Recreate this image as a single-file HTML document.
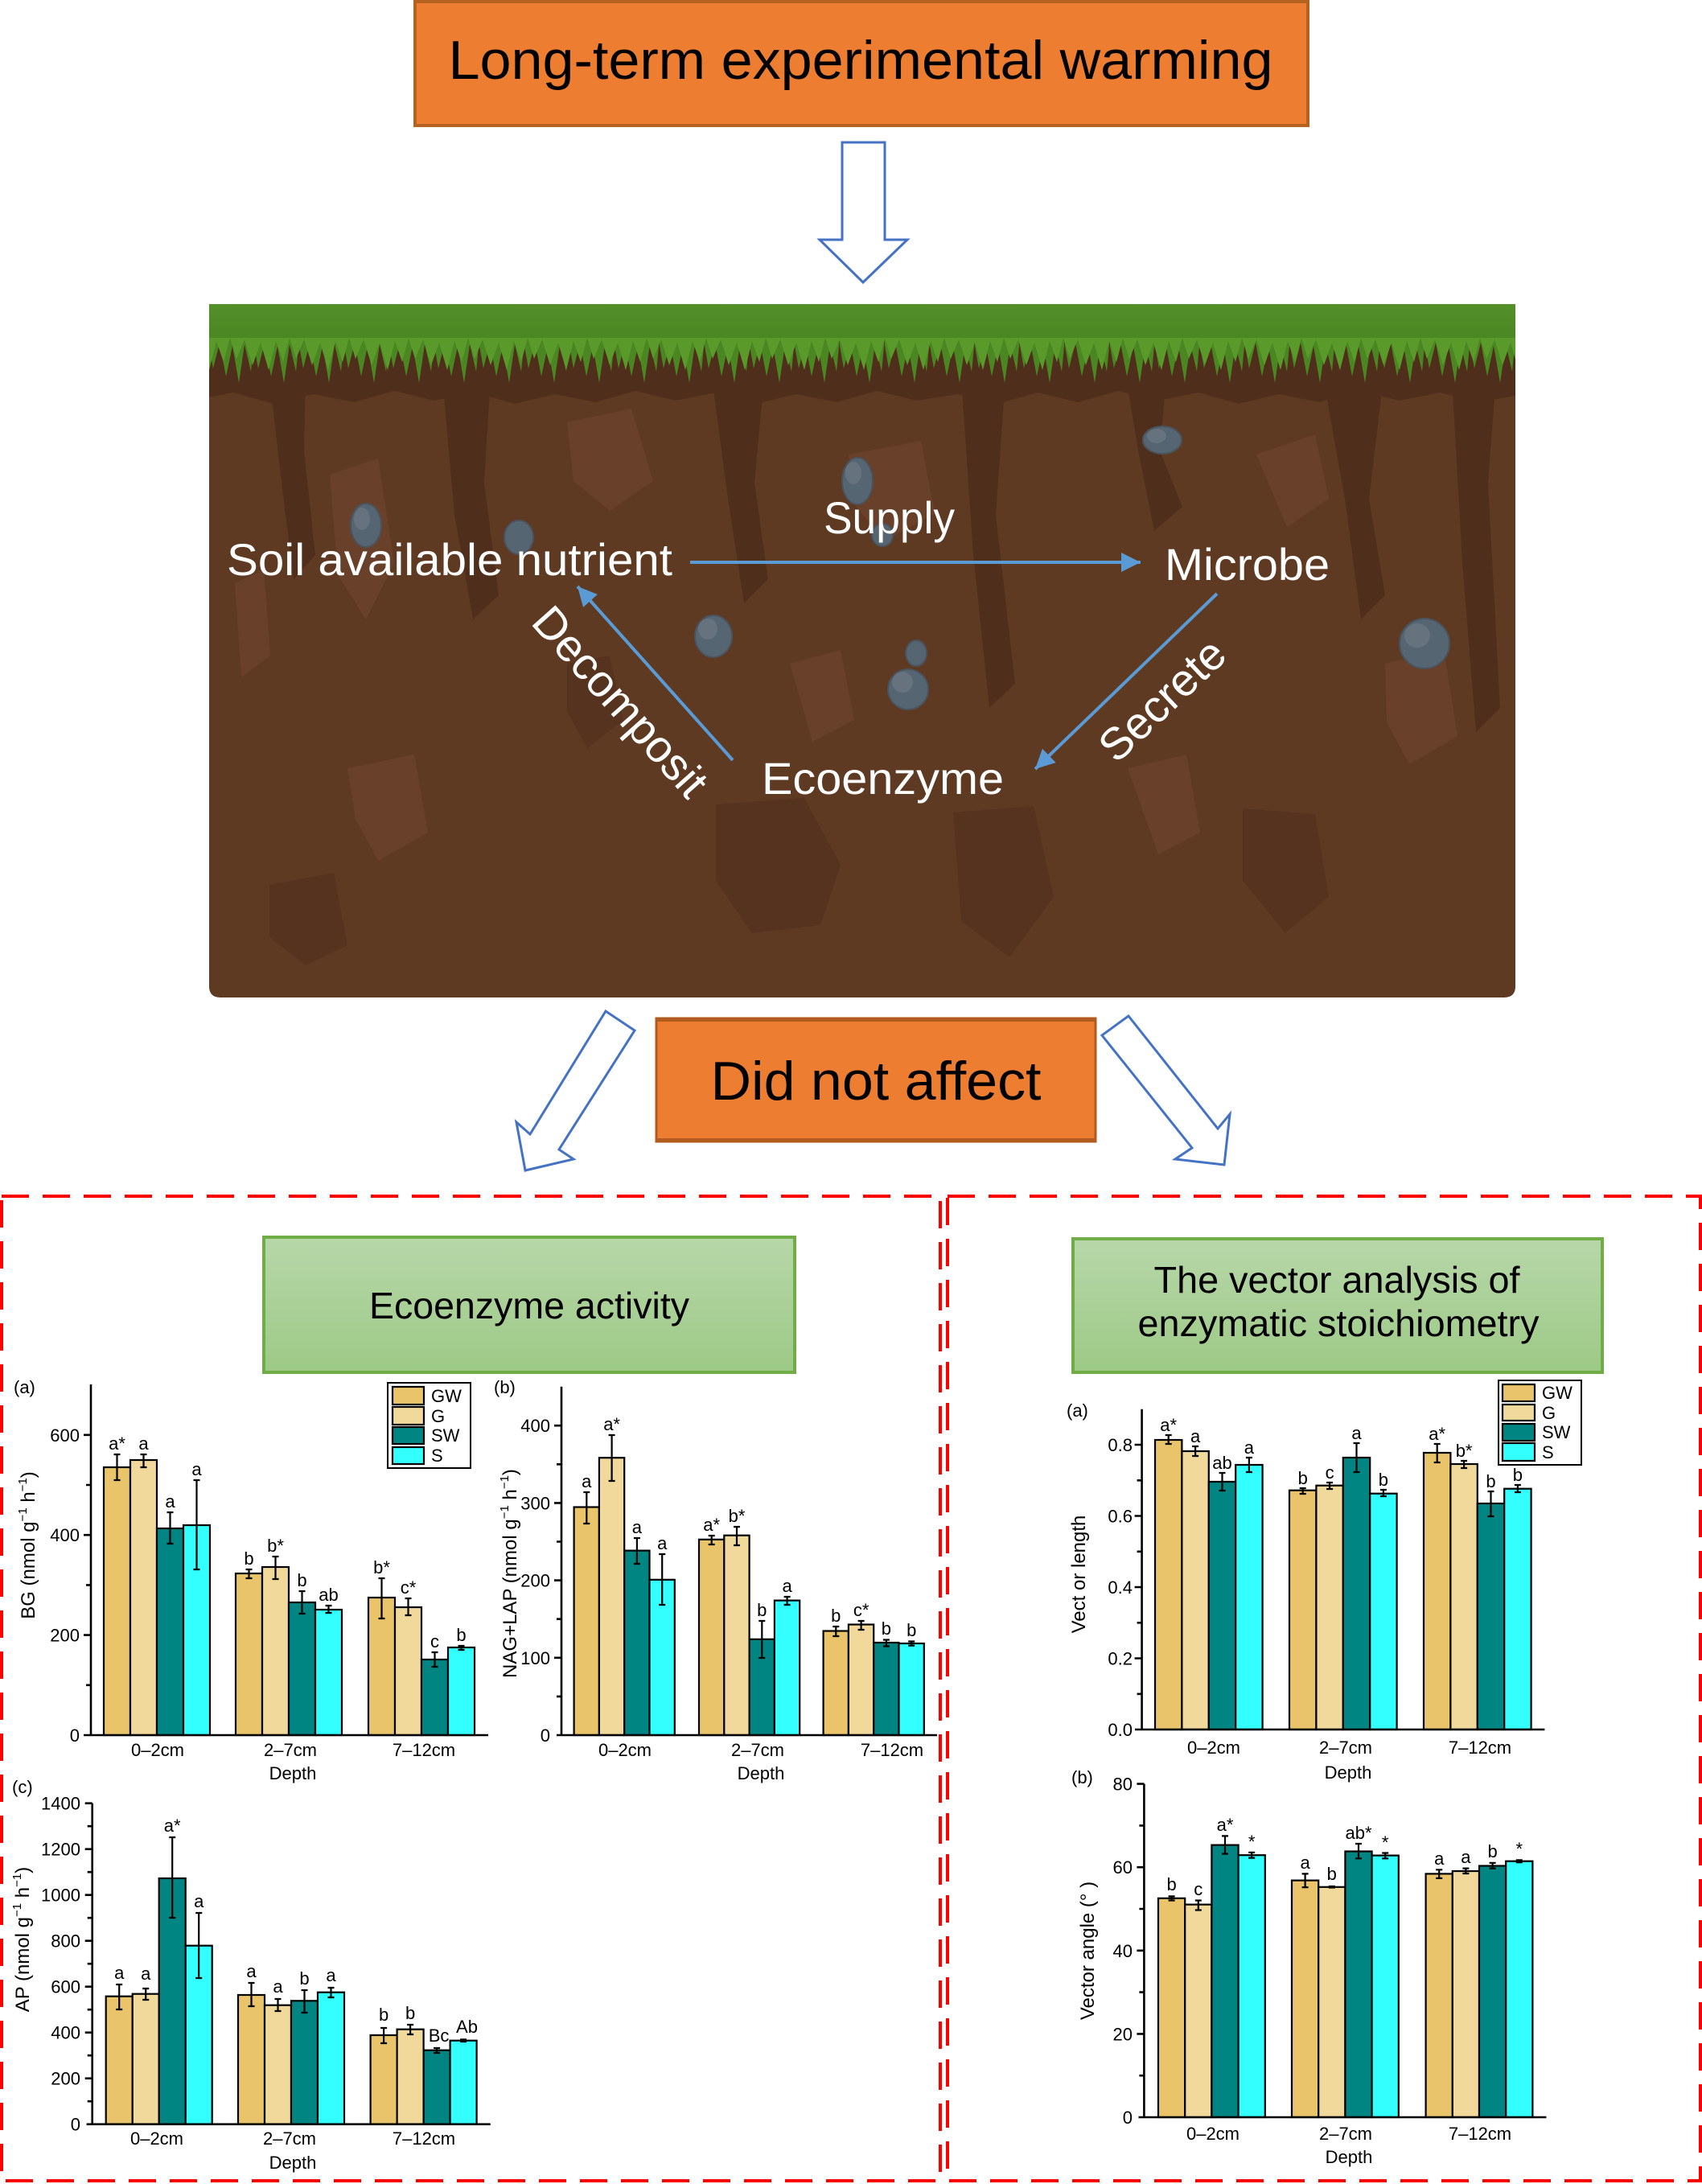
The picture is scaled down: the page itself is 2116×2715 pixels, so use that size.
<!DOCTYPE html>
<html><head><meta charset="utf-8"><title>Warming ecoenzyme figure</title>
<style>
html,body{margin:0;padding:0;background:#fff;}
svg{display:block;}
text{font-family:"Liberation Sans",Arial,sans-serif;}
.gw{fill:#E9C46A;stroke:#000;stroke-width:2.2}
.g{fill:#F1D89B;stroke:#000;stroke-width:2.2}
.sw{fill:#008582;stroke:#000;stroke-width:2.2}
.s{fill:#33FFFF;stroke:#000;stroke-width:2.2}
.ax{stroke:#000;stroke-width:2.6;fill:none}
.eb{stroke:#000;stroke-width:2.2;fill:none}
.t{font-size:22px;fill:#000}
.lab{font-size:22px;fill:#000;text-anchor:middle}
.tk{font-size:22px;fill:#000;text-anchor:end}
.yl{font-size:24px;fill:#000;text-anchor:middle}
.wt{font-size:56px;fill:#fff}
</style></head>
<body>
<svg width="2116" height="2715" viewBox="0 0 2116 2715" xmlns="http://www.w3.org/2000/svg">
<defs>
<linearGradient id="gg" x1="0" y1="0" x2="0" y2="1"><stop offset="0" stop-color="#B7D7A9"/><stop offset="1" stop-color="#9DC986"/></linearGradient>
<linearGradient id="grassg" x1="0" y1="0" x2="0" y2="1"><stop offset="0" stop-color="#53902A"/><stop offset="1" stop-color="#4A8621"/></linearGradient>
<pattern id="spk" x="260" y="420" width="56" height="70" patternUnits="userSpaceOnUse"><path d="M0 0H56L52 42L44 8L37 56L29 10L21 48L13 6L5 38L0 10Z" fill="#4A8621"/></pattern>
<pattern id="spk2" x="286" y="420" width="74" height="70" patternUnits="userSpaceOnUse"><path d="M0 0H74L66 30L57 4L48 40L38 6L28 34L18 2L8 26Z" fill="#5A9A2B"/></pattern>
<marker id="ah" viewBox="0 0 10 10" refX="10" refY="5" markerWidth="6.5" markerHeight="6" orient="auto" markerUnits="strokeWidth"><path d="M0 0L10 5L0 10Z" fill="#5B9BD5"/></marker>
</defs>

<!-- top box -->
<rect x="516" y="2" width="1110" height="154" fill="#ED7D31" stroke="#B5611F" stroke-width="4"/>
<text x="1070" y="98" font-size="68" text-anchor="middle" textLength="1025" lengthAdjust="spacingAndGlyphs">Long-term experimental warming</text>

<!-- down arrow -->
<polygon points="1047,177 1100,177 1100,298 1128,298 1073,351 1019,298 1047,298" fill="#fff" stroke="#4472C4" stroke-width="3"/>

<!-- soil -->
<path d="M260 378H1884V1226Q1884 1240 1870 1240H274Q260 1240 260 1226Z" fill="#5F3A22"/>
<g fill="#4F2F1C">
<polygon points="260,425 1884,425 1884,492 1840,500 1790,488 1740,498 1690,486 1640,500 1590,490 1540,502 1490,488 1440,498 1390,486 1340,500 1290,488 1240,502 1190,490 1140,498 1090,486 1040,500 990,490 940,502 890,488 840,498 790,486 740,500 690,490 640,502 590,488 540,498 490,486 440,500 390,490 340,502 290,488 260,494"/>
<polygon points="335,470 380,470 378,560 392,690 365,720 350,600"/>
<polygon points="550,470 610,470 602,600 620,740 588,770 565,640"/>
<polygon points="885,470 950,470 938,600 955,720 925,750 905,620"/>
<polygon points="1195,470 1250,470 1238,640 1262,850 1230,880 1210,690"/>
<polygon points="1400,470 1450,470 1442,560 1470,630 1435,660 1415,560"/>
<polygon points="1645,470 1720,470 1702,620 1722,740 1692,770 1672,620"/>
<polygon points="1805,470 1860,470 1850,600 1865,880 1835,910 1818,700"/>
</g>
<g fill="#56331F">
<polygon points="890,1000 1000,992 1045,1075 1020,1150 935,1160 890,1095"/>
<polygon points="1185,1010 1285,1002 1310,1115 1255,1190 1195,1145"/>
<polygon points="1545,1005 1635,1012 1652,1115 1598,1160 1545,1095"/>
<polygon points="335,1100 415,1085 432,1175 380,1200 335,1165"/>
<polygon points="705,825 758,815 775,895 730,930 705,885"/>
</g>
<g fill="#69402A">
<polygon points="410,590 470,570 490,700 455,770 420,715"/>
<polygon points="705,525 785,508 812,598 758,635 713,598"/>
<polygon points="1055,565 1145,548 1162,638 1100,672 1063,628"/>
<polygon points="1562,565 1635,540 1652,620 1600,655"/>
<polygon points="1722,825 1795,808 1812,915 1752,950 1724,898"/>
<polygon points="432,955 515,938 532,1035 470,1070 442,1018"/>
<polygon points="1402,955 1475,938 1492,1035 1440,1062"/>
<polygon points="982,825 1045,808 1062,895 1010,922"/>
<polygon points="292,725 328,708 336,815 300,842"/>
</g>
<rect x="260" y="378" width="1624" height="46" fill="url(#grassg)"/>
<rect x="260" y="420" width="1624" height="62" fill="url(#spk)"/>
<rect x="260" y="420" width="1624" height="44" fill="url(#spk2)"/>
<g fill="#566572" stroke="#49545E" stroke-width="2">
<ellipse cx="455" cy="653" rx="19" ry="27"/>
<ellipse cx="645" cy="668" rx="18" ry="21"/>
<ellipse cx="1066" cy="598" rx="19" ry="29"/>
<ellipse cx="1445" cy="547" rx="24" ry="17"/>
<ellipse cx="887" cy="791" rx="23" ry="26"/>
<ellipse cx="1139" cy="812" rx="13" ry="16"/>
<ellipse cx="1129" cy="857" rx="25" ry="25"/>
<ellipse cx="1771" cy="800" rx="31" ry="31"/>
<ellipse cx="1097" cy="665" rx="13" ry="14"/>
</g>
<g fill="#66737E">
<ellipse cx="450" cy="645" rx="10" ry="14"/>
<ellipse cx="1061" cy="588" rx="10" ry="14"/>
<ellipse cx="880" cy="782" rx="12" ry="13"/>
<ellipse cx="1122" cy="848" rx="13" ry="13"/>
<ellipse cx="1762" cy="790" rx="16" ry="15"/>
<ellipse cx="1438" cy="542" rx="12" ry="9"/>
</g>

<!-- soil arrows -->
<g stroke="#5B9BD5" stroke-width="4" fill="none">
<line x1="858" y1="699" x2="1418" y2="699" marker-end="url(#ah)"/>
<line x1="911" y1="945" x2="718" y2="729" marker-end="url(#ah)"/>
<line x1="1513" y1="738" x2="1287" y2="956" marker-end="url(#ah)"/>
</g>
<text class="wt" x="282" y="715" textLength="554" lengthAdjust="spacingAndGlyphs">Soil available nutrient</text>
<text class="wt" x="1024" y="663" textLength="163" lengthAdjust="spacingAndGlyphs">Supply</text>
<text class="wt" x="1448" y="721" textLength="205" lengthAdjust="spacingAndGlyphs">Microbe</text>
<text class="wt" x="947" y="987" textLength="301" lengthAdjust="spacingAndGlyphs">Ecoenzyme</text>
<text class="wt" text-anchor="middle" transform="translate(757,885) rotate(48.3)">Decomposit</text>
<text class="wt" text-anchor="middle" transform="translate(1458,884) rotate(-43.5)">Secrete</text>

<!-- did not affect -->
<polygon points="753,1257 789,1281 695,1429 713,1441 653,1455 642,1395 659,1410" fill="#fff" stroke="#4472C4" stroke-width="3"/>
<polygon points="1403,1263 1370,1287 1482,1427 1461,1441 1522,1448 1529,1385 1514,1403" fill="#fff" stroke="#4472C4" stroke-width="3"/>
<rect x="816" y="1266" width="546" height="153" fill="#ED7D31" stroke="#B25B1E" stroke-width="3"/>
<rect x="816" y="1265" width="546" height="5" fill="#B25B1E"/>
<rect x="816" y="1415" width="546" height="5" fill="#B25B1E"/>
<text x="1089" y="1367" font-size="68" text-anchor="middle" textLength="411" lengthAdjust="spacingAndGlyphs">Did not affect</text>

<!-- red dashed frames -->
<g fill="none" stroke="#FF0000" stroke-width="4" stroke-dasharray="34 17">
<rect x="2" y="1487" width="1167" height="1224"/>
<rect x="1178" y="1487" width="936" height="1224"/>
</g>

<!-- green boxes -->
<rect x="328" y="1538" width="660" height="168" fill="url(#gg)" stroke="#70AD47" stroke-width="4"/>
<text x="658" y="1639" font-size="46" text-anchor="middle" textLength="398" lengthAdjust="spacingAndGlyphs">Ecoenzyme activity</text>
<rect x="1334" y="1540" width="658" height="166" fill="url(#gg)" stroke="#70AD47" stroke-width="4"/>
<text x="1662" y="1607" font-size="46" text-anchor="middle" textLength="455" lengthAdjust="spacingAndGlyphs">The vector analysis of</text>
<text x="1664" y="1661" font-size="46" text-anchor="middle" textLength="499" lengthAdjust="spacingAndGlyphs">enzymatic stoichiometry</text>

<!-- ===== Chart A (BG) ===== -->
<rect class="gw" x="129" y="1824" width="33" height="333"/>
<rect class="g" x="162" y="1815" width="33" height="342"/>
<rect class="sw" x="195" y="1900" width="33" height="257"/>
<rect class="s" x="228" y="1896" width="33" height="261"/>
<rect class="gw" x="293" y="1956" width="33" height="201"/>
<rect class="g" x="326" y="1948" width="33" height="209"/>
<rect class="sw" x="359" y="1992" width="33" height="165"/>
<rect class="s" x="392" y="2001" width="33" height="156"/>
<rect class="gw" x="458" y="1986" width="33" height="171"/>
<rect class="g" x="491" y="1998" width="33" height="159"/>
<rect class="sw" x="524" y="2063" width="33" height="94"/>
<rect class="s" x="557" y="2048" width="33" height="109"/>
<path class="eb" d="M145.5 1808V1840M141.5 1808h8M141.5 1840h8M178.5 1808V1824M174.5 1808h8M174.5 1824h8M211.5 1880V1919M207.5 1880h8M207.5 1919h8M244.5 1840V1951M240.5 1840h8M240.5 1951h8M309.5 1951V1962M305.5 1951h8M305.5 1962h8M342.5 1935V1963M338.5 1935h8M338.5 1963h8M375.5 1978V2006M371.5 1978h8M371.5 2006h8M408.5 1996V2005M404.5 1996h8M404.5 2005h8M474.5 1962V2012M470.5 1962h8M470.5 2012h8M507.5 1987V2008M503.5 1987h8M503.5 2008h8M540.5 2054V2072M536.5 2054h8M536.5 2072h8M573.5 2046V2051M569.5 2046h8M569.5 2051h8"/>
<path class="ax" d="M113 1721V2157M104 2157H607M104 2032.6H113M104 1908.2H113M104 1783.8H113M107 2094.8H113M107 1970.4H113M107 1846H113"/>
<text class="tk" x="99" y="2165">0</text>
<text class="tk" x="99" y="2040.6">200</text>
<text class="tk" x="99" y="1916.2">400</text>
<text class="tk" x="99" y="1791.8">600</text>
<text class="lab" x="145.5" y="1802">a*</text><text class="lab" x="178.5" y="1802">a</text><text class="lab" x="211.5" y="1874">a</text><text class="lab" x="244.5" y="1834">a</text>
<text class="lab" x="309.5" y="1945">b</text><text class="lab" x="342.5" y="1929">b*</text><text class="lab" x="375.5" y="1972">b</text><text class="lab" x="408.5" y="1990">ab</text>
<text class="lab" x="474.5" y="1956">b*</text><text class="lab" x="507.5" y="1981">c*</text><text class="lab" x="540.5" y="2048">c</text><text class="lab" x="573.5" y="2040">b</text>
<text class="lab" x="196" y="2183">0–2cm</text><text class="lab" x="361" y="2183">2–7cm</text><text class="lab" x="527" y="2183">7–12cm</text>
<text class="lab" x="364" y="2212">Depth</text>
<text class="t" x="17" y="1732">(a)</text>
<text class="yl" transform="translate(43,1921) rotate(-90)">BG (nmol g<tspan font-size="15" dy="-10">−1</tspan><tspan dy="10"> h</tspan><tspan font-size="15" dy="-10">−1</tspan><tspan dy="10">)</tspan></text>
<rect x="482" y="1719" width="103" height="106" fill="#fff" stroke="#000" stroke-width="2"/>
<rect class="gw" x="488" y="1724" width="39" height="22"/>
<rect class="g" x="488" y="1749" width="39" height="22"/>
<rect class="sw" x="488" y="1774" width="39" height="21"/>
<rect class="s" x="488" y="1799" width="39" height="21"/>
<text class="t" x="536" y="1743">GW</text><text class="t" x="536" y="1768">G</text><text class="t" x="536" y="1792">SW</text><text class="t" x="536" y="1817">S</text>

<!-- ===== Chart B (NAG+LAP) ===== -->
<rect class="gw" x="713.6" y="1873.5" width="31.3" height="283.5"/>
<rect class="g" x="744.9" y="1812.2" width="31.3" height="344.8"/>
<rect class="sw" x="776.2" y="1927.6" width="31.3" height="229.4"/>
<rect class="s" x="807.5" y="1963.8" width="31.3" height="193.2"/>
<rect class="gw" x="869" y="1913.8" width="31.3" height="243.2"/>
<rect class="g" x="900.3" y="1908.7" width="31.3" height="248.3"/>
<rect class="sw" x="931.6" y="2037.8" width="31.3" height="119.2"/>
<rect class="s" x="962.9" y="1989.6" width="31.3" height="167.4"/>
<rect class="gw" x="1023.6" y="2027.5" width="31.3" height="129.5"/>
<rect class="g" x="1054.9" y="2019.5" width="31.3" height="137.5"/>
<rect class="sw" x="1086.2" y="2042" width="31.3" height="115"/>
<rect class="s" x="1117.5" y="2043" width="31.3" height="114"/>
<path class="eb" d="M729.3 1855V1894M725.3 1855h8M725.3 1894h8M760.6 1784V1841M756.6 1784h8M756.6 1841h8M791.9 1912V1944M787.9 1912h8M787.9 1944h8M823.2 1932V1995M819.2 1932h8M819.2 1995h8M884.7 1909V1920M880.7 1909h8M880.7 1920h8M916 1898V1921M912 1898h8M912 1921h8M947.3 2015V2061M943.3 2015h8M943.3 2061h8M978.6 1985V1995M974.6 1985h8M974.6 1995h8M1039.3 2022V2034M1035.3 2022h8M1035.3 2034h8M1070.6 2015V2026M1066.6 2015h8M1066.6 2026h8M1101.9 2038.5V2046.5M1097.9 2038.5h8M1097.9 2046.5h8M1133.2 2040.5V2045.7M1129.2 2040.5h8M1129.2 2045.7h8"/>
<path class="ax" d="M698 1723.7V2157M692 2157H1165M689 2060.8H698M689 1964.6H698M689 1868.4H698M689 1772.2H698M692 2108.9H698M692 2012.7H698M692 1916.5H698M692 1820.3H698"/>
<text class="tk" x="684" y="2165">0</text>
<text class="tk" x="684" y="2068.8">100</text>
<text class="tk" x="684" y="1972.6">200</text>
<text class="tk" x="684" y="1876.4">300</text>
<text class="tk" x="684" y="1780.2">400</text>
<text class="lab" x="729.3" y="1849">a</text><text class="lab" x="760.6" y="1778">a*</text><text class="lab" x="791.9" y="1906">a</text><text class="lab" x="823.2" y="1926">a</text>
<text class="lab" x="884.7" y="1903">a*</text><text class="lab" x="916" y="1892">b*</text><text class="lab" x="947.3" y="2009">b</text><text class="lab" x="978.6" y="1979">a</text>
<text class="lab" x="1039.3" y="2016">b</text><text class="lab" x="1070.6" y="2009">c*</text><text class="lab" x="1101.9" y="2032">b</text><text class="lab" x="1133.2" y="2034">b</text>
<text class="lab" x="777" y="2183">0–2cm</text><text class="lab" x="942" y="2183">2–7cm</text><text class="lab" x="1109" y="2183">7–12cm</text>
<text class="lab" x="946" y="2212">Depth</text>
<text class="t" x="614" y="1732">(b)</text>
<text class="yl" transform="translate(642,1956) rotate(-90)">NAG+LAP (nmol g<tspan font-size="15" dy="-10">−1</tspan><tspan dy="10"> h</tspan><tspan font-size="15" dy="-10">−1</tspan><tspan dy="10">)</tspan></text>

<!-- ===== Chart C (AP) ===== -->
<rect class="gw" x="131.7" y="2481.7" width="33" height="159"/>
<rect class="g" x="164.7" y="2478.7" width="33" height="162"/>
<rect class="sw" x="197.7" y="2335" width="33" height="305.7"/>
<rect class="s" x="230.7" y="2418.7" width="33" height="222"/>
<rect class="gw" x="296" y="2480" width="33" height="160.7"/>
<rect class="g" x="329" y="2492.7" width="33" height="148"/>
<rect class="sw" x="362" y="2487.3" width="33" height="153.4"/>
<rect class="s" x="395" y="2476.7" width="33" height="164"/>
<rect class="gw" x="460.6" y="2530" width="33" height="110.7"/>
<rect class="g" x="493.6" y="2522.7" width="33" height="118"/>
<rect class="sw" x="526.6" y="2548.7" width="33" height="92"/>
<rect class="s" x="559.6" y="2536.7" width="33" height="104"/>
<path class="eb" d="M148.2 2467V2498M144.2 2467h8M144.2 2498h8M181.2 2472V2486M177.2 2472h8M177.2 2486h8M214.2 2284V2384M210.2 2284h8M210.2 2384h8M247.2 2378V2459M243.2 2378h8M243.2 2459h8M312.5 2465V2494M308.5 2465h8M308.5 2494h8M345.5 2485V2500M341.5 2485h8M341.5 2500h8M378.5 2474V2502M374.5 2474h8M374.5 2502h8M411.5 2471V2483M407.5 2471h8M407.5 2483h8M477.1 2521V2540M473.1 2521h8M473.1 2540h8M510.1 2517V2529M506.1 2517h8M506.1 2529h8M543.1 2546V2552M539.1 2546h8M539.1 2552h8M576.1 2535.3V2538M572.1 2535.3h8M572.1 2538h8"/>
<path class="ax" d="M114.7 2241.7V2640.7M107.6 2640.7H609.7M105.7 2583.7H114.7M105.7 2526.7H114.7M105.7 2469.7H114.7M105.7 2412.7H114.7M105.7 2355.7H114.7M105.7 2298.7H114.7M105.7 2241.7H114.7M108.7 2612.2H114.7M108.7 2555.2H114.7M108.7 2498.2H114.7M108.7 2441.2H114.7M108.7 2384.2H114.7M108.7 2327.2H114.7M108.7 2270.2H114.7"/>
<text class="tk" x="100" y="2648.7">0</text>
<text class="tk" x="100" y="2591.7">200</text>
<text class="tk" x="100" y="2534.7">400</text>
<text class="tk" x="100" y="2477.7">600</text>
<text class="tk" x="100" y="2420.7">800</text>
<text class="tk" x="100" y="2363.7">1000</text>
<text class="tk" x="100" y="2306.7">1200</text>
<text class="tk" x="100" y="2249.7">1400</text>
<text class="lab" x="148.2" y="2460">a</text><text class="lab" x="181.2" y="2461">a</text><text class="lab" x="214.2" y="2277">a*</text><text class="lab" x="247.2" y="2371">a</text>
<text class="lab" x="312.5" y="2458">a</text><text class="lab" x="345.5" y="2477">a</text><text class="lab" x="378.5" y="2467">b</text><text class="lab" x="411.5" y="2463">a</text>
<text class="lab" x="477.1" y="2512">b</text><text class="lab" x="510.1" y="2510">b</text><text class="lab" x="545.6" y="2538">Bc</text><text class="lab" x="580.5" y="2527">Ab</text>
<text class="lab" x="195" y="2666">0–2cm</text><text class="lab" x="360" y="2666">2–7cm</text><text class="lab" x="527" y="2666">7–12cm</text>
<text class="lab" x="364" y="2696">Depth</text>
<text class="t" x="15" y="2229">(c)</text>
<text class="yl" transform="translate(36,2411) rotate(-90)">AP (nmol g<tspan font-size="15" dy="-10">−1</tspan><tspan dy="10"> h</tspan><tspan font-size="15" dy="-10">−1</tspan><tspan dy="10">)</tspan></text>

<!-- ===== Right chart A (vector length) ===== -->
<rect class="gw" x="1436" y="1790" width="33.4" height="360"/>
<rect class="g" x="1469.4" y="1804" width="33.4" height="346"/>
<rect class="sw" x="1502.8" y="1842" width="33.4" height="308"/>
<rect class="s" x="1536.2" y="1821" width="33.4" height="329"/>
<rect class="gw" x="1603" y="1852.7" width="33.4" height="297.3"/>
<rect class="g" x="1636.4" y="1846.7" width="33.4" height="303.3"/>
<rect class="sw" x="1669.8" y="1812" width="33.4" height="338"/>
<rect class="s" x="1703.2" y="1856.7" width="33.4" height="293.3"/>
<rect class="gw" x="1770" y="1806" width="33.4" height="344"/>
<rect class="g" x="1803.4" y="1820" width="33.4" height="330"/>
<rect class="sw" x="1836.8" y="1869" width="33.4" height="281"/>
<rect class="s" x="1870.2" y="1850.7" width="33.4" height="299.3"/>
<path class="eb" d="M1452.7 1784V1795M1448.7 1784h8M1448.7 1795h8M1486.1 1798V1810M1482.1 1798h8M1482.1 1810h8M1519.5 1831V1853M1515.5 1831h8M1515.5 1853h8M1552.9 1812V1830M1548.9 1812h8M1548.9 1830h8M1619.7 1850V1857M1615.7 1850h8M1615.7 1857h8M1653.1 1843V1851M1649.1 1843h8M1649.1 1851h8M1686.5 1794V1830M1682.5 1794h8M1682.5 1830h8M1719.9 1852V1860M1715.9 1852h8M1715.9 1860h8M1786.7 1795V1818M1782.7 1795h8M1782.7 1818h8M1820.1 1816V1825M1816.1 1816h8M1816.1 1825h8M1853.5 1854V1885M1849.5 1854h8M1849.5 1885h8M1886.9 1846V1855M1882.9 1846h8M1882.9 1855h8"/>
<path class="ax" d="M1419.6 1751.7V2150M1411 2150H1920.4M1410.6 2061.5H1419.6M1410.6 1973H1419.6M1410.6 1884.5H1419.6M1410.6 1796H1419.6M1413.6 2105.8H1419.6M1413.6 2017.3H1419.6M1413.6 1928.8H1419.6M1413.6 1840.3H1419.6"/>
<text class="tk" x="1408" y="2158">0.0</text>
<text class="tk" x="1408" y="2069.5">0.2</text>
<text class="tk" x="1408" y="1981">0.4</text>
<text class="tk" x="1408" y="1892.5">0.6</text>
<text class="tk" x="1408" y="1804">0.8</text>
<text class="lab" x="1452.7" y="1779">a*</text><text class="lab" x="1486.1" y="1793">a</text><text class="lab" x="1519.5" y="1826">ab</text><text class="lab" x="1552.9" y="1807">a</text>
<text class="lab" x="1619.7" y="1845">b</text><text class="lab" x="1653.1" y="1838">c</text><text class="lab" x="1686.5" y="1789">a</text><text class="lab" x="1719.9" y="1847">b</text>
<text class="lab" x="1786.7" y="1790">a*</text><text class="lab" x="1820.1" y="1811">b*</text><text class="lab" x="1853.5" y="1849">b</text><text class="lab" x="1886.9" y="1841">b</text>
<text class="lab" x="1509" y="2180">0–2cm</text><text class="lab" x="1673" y="2180">2–7cm</text><text class="lab" x="1840" y="2180">7–12cm</text>
<text class="lab" x="1676" y="2211">Depth</text>
<text class="t" x="1326" y="1761">(a)</text>
<text class="yl" transform="translate(1349,1957) rotate(-90)">Vect or length</text>
<rect x="1863" y="1716" width="103" height="105" fill="#fff" stroke="#000" stroke-width="2"/>
<rect class="gw" x="1868" y="1721" width="40" height="21"/>
<rect class="g" x="1868" y="1746" width="40" height="20"/>
<rect class="sw" x="1868" y="1770" width="40" height="21"/>
<rect class="s" x="1868" y="1794" width="40" height="22"/>
<text class="t" x="1917" y="1739">GW</text><text class="t" x="1917" y="1764">G</text><text class="t" x="1917" y="1788">SW</text><text class="t" x="1917" y="1813">S</text>

<!-- ===== Right chart B (vector angle) ===== -->
<rect class="gw" x="1440" y="2359.8" width="33.2" height="272.2"/>
<rect class="g" x="1473.2" y="2367.6" width="33.2" height="264.4"/>
<rect class="sw" x="1506.4" y="2293.6" width="33.2" height="338.4"/>
<rect class="s" x="1539.6" y="2306.2" width="33.2" height="325.8"/>
<rect class="gw" x="1606" y="2337.6" width="33.2" height="294.4"/>
<rect class="g" x="1639.2" y="2345.8" width="33.2" height="286.2"/>
<rect class="sw" x="1672.4" y="2301.5" width="33.2" height="330.5"/>
<rect class="s" x="1705.6" y="2306.6" width="33.2" height="325.4"/>
<rect class="gw" x="1772.6" y="2329.4" width="33.2" height="302.6"/>
<rect class="g" x="1805.8" y="2326" width="33.2" height="306"/>
<rect class="sw" x="1839" y="2319.5" width="33.2" height="312.5"/>
<rect class="s" x="1872.2" y="2313.7" width="33.2" height="318.3"/>
<path class="eb" d="M1456.6 2357.4V2362.5M1452.6 2357.4h8M1452.6 2362.5h8M1489.8 2362.5V2374.5M1485.8 2362.5h8M1485.8 2374.5h8M1523 2282.4V2304.5M1519 2282.4h8M1519 2304.5h8M1556.2 2302.8V2309.6M1552.2 2302.8h8M1552.2 2309.6h8M1622.6 2329.4V2346.2M1618.6 2329.4h8M1618.6 2346.2h8M1655.8 2345V2346.5M1651.8 2345h8M1651.8 2346.5h8M1689 2292V2310.3M1685 2292h8M1685 2310.3h8M1722.2 2303.5V2310.3M1718.2 2303.5h8M1718.2 2310.3h8M1789.2 2324.3V2334.9M1785.2 2324.3h8M1785.2 2334.9h8M1822.4 2322.6V2329M1818.4 2322.6h8M1818.4 2329h8M1855.6 2315.8V2322.6M1851.6 2315.8h8M1851.6 2322.6h8M1888.8 2312.4V2315.1M1884.8 2312.4h8M1884.8 2315.1h8"/>
<path class="ax" d="M1422.4 2217.5V2632M1415.5 2632H1922.4M1413.4 2528.4H1422.4M1413.4 2424.8H1422.4M1413.4 2321.2H1422.4M1413.4 2217.6H1422.4M1416.4 2580.2H1422.4M1416.4 2476.6H1422.4M1416.4 2373H1422.4M1416.4 2269.4H1422.4"/>
<text class="tk" x="1408" y="2640">0</text>
<text class="tk" x="1408" y="2536.4">20</text>
<text class="tk" x="1408" y="2432.8">40</text>
<text class="tk" x="1408" y="2329.2">60</text>
<text class="tk" x="1408" y="2225.6">80</text>
<text class="lab" x="1456.6" y="2350">b</text><text class="lab" x="1489.8" y="2356">c</text><text class="lab" x="1523" y="2276">a*</text><text class="lab" x="1556.2" y="2297">*</text>
<text class="lab" x="1622.6" y="2323">a</text><text class="lab" x="1655.8" y="2337">b</text><text class="lab" x="1689" y="2286">ab*</text><text class="lab" x="1722.2" y="2298">*</text>
<text class="lab" x="1789.2" y="2318">a</text><text class="lab" x="1822.4" y="2316">a</text><text class="lab" x="1855.6" y="2309">b</text><text class="lab" x="1888.8" y="2306">*</text>
<text class="lab" x="1508" y="2660">0–2cm</text><text class="lab" x="1673" y="2660">2–7cm</text><text class="lab" x="1840" y="2660">7–12cm</text>
<text class="lab" x="1677" y="2689">Depth</text>
<text class="t" x="1332" y="2217">(b)</text>
<text class="yl" transform="translate(1360,2425) rotate(-90)">Vector angle (° )</text>
</svg>
</body></html>
